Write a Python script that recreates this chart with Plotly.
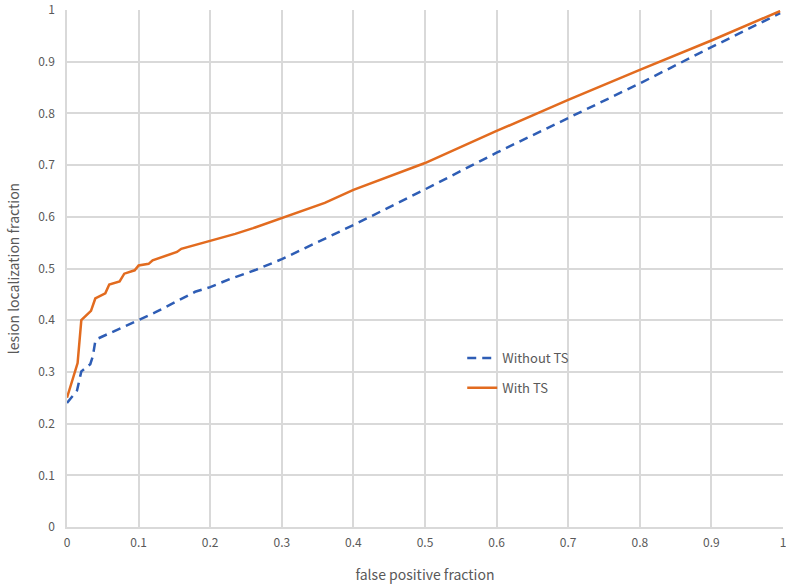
import plotly.graph_objects as go

# Without TS (blue dashed)
fpf_without = [0.0, 0.014, 0.020, 0.0325, 0.036, 0.0395, 0.044, 0.065, 0.100, 0.123, 0.179,
               0.200, 0.228, 0.263, 0.300, 0.400, 0.500, 0.600, 0.700, 0.800, 0.900, 0.996]
llf_without = [0.240, 0.264, 0.301, 0.315, 0.330, 0.359, 0.365, 0.378, 0.401, 0.415, 0.455,
               0.464, 0.480, 0.497, 0.518, 0.584, 0.653, 0.724, 0.791, 0.858, 0.928, 0.994]

# With TS (orange solid)
fpf_with = [0.0, 0.0148, 0.020, 0.0335, 0.0395, 0.0535, 0.059, 0.0735, 0.080, 0.0945, 0.100,
            0.114, 0.1196, 0.1536, 0.1596, 0.200, 0.228, 0.235, 0.260, 0.300, 0.360, 0.400,
            0.500, 0.600, 0.700, 0.800, 0.900, 0.996]
llf_with = [0.250, 0.317, 0.400, 0.418, 0.442, 0.452, 0.469, 0.475, 0.490, 0.4965, 0.506,
            0.509, 0.516, 0.532, 0.538, 0.553, 0.564, 0.567, 0.578, 0.598, 0.627, 0.652,
            0.704, 0.766, 0.826, 0.884, 0.941, 0.998]

tick_vals = [0, 0.1, 0.2, 0.3, 0.4, 0.5, 0.6, 0.7, 0.8, 0.9, 1]
tick_text = ["0", "0.1", "0.2", "0.3", "0.4", "0.5", "0.6", "0.7", "0.8", "0.9", "1"]

FONT = "Noto Sans CJK JP, Noto Sans, sans-serif"
GRID = "#d9d9d9"
TXT = "#595959"

fig = go.Figure()
fig.add_trace(go.Scatter(
    x=fpf_without, y=llf_without, mode="lines", name="Without TS",
    legendgroup="a",
    line=dict(color="#2E5DB5", width=2.5, dash="9px,6px"),
))
fig.add_trace(go.Scatter(
    x=fpf_with, y=llf_with, mode="lines", name="With TS",
    legendgroup="b",
    line=dict(color="#E26B1F", width=2.5),
))

fig.update_layout(
    width=786, height=584,
    margin=dict(l=67, r=3, t=10, b=57),
    paper_bgcolor="white", plot_bgcolor="white",
    font=dict(family=FONT, color=TXT, size=12),
    showlegend=True,
    legend=dict(x=0.552, y=0.356, xanchor="left", yanchor="top",
                bgcolor="rgba(0,0,0,0)", font=dict(size=13, color=TXT),
                tracegroupgap=10, itemwidth=30),
    xaxis=dict(
        range=[0, 1], tickvals=tick_vals, ticktext=tick_text,
        showgrid=True, gridcolor=GRID, gridwidth=1.5,
        showline=True, linecolor=GRID, linewidth=1.5,
        zeroline=False, ticks="", ticklabelstandoff=4,
        ticklabeloverflow="allow",
        title=dict(text="false positive fraction", font=dict(size=14, color=TXT), standoff=22),
        automargin=False,
    ),
    yaxis=dict(
        range=[0, 1], tickvals=tick_vals, ticktext=tick_text,
        showgrid=True, gridcolor=GRID, gridwidth=1.5,
        showline=True, linecolor=GRID, linewidth=1.5,
        zeroline=False, ticks="", ticklabelstandoff=8,
        ticklabeloverflow="allow",
        title=dict(text="lesion localization fraction", font=dict(size=14, color=TXT), standoff=15),
        automargin=False,
    ),
)

fig.write_html("out.html", config={"displayModeBar": False},
               post_script="document.body.style.margin='0';document.body.style.overflow='hidden';")
